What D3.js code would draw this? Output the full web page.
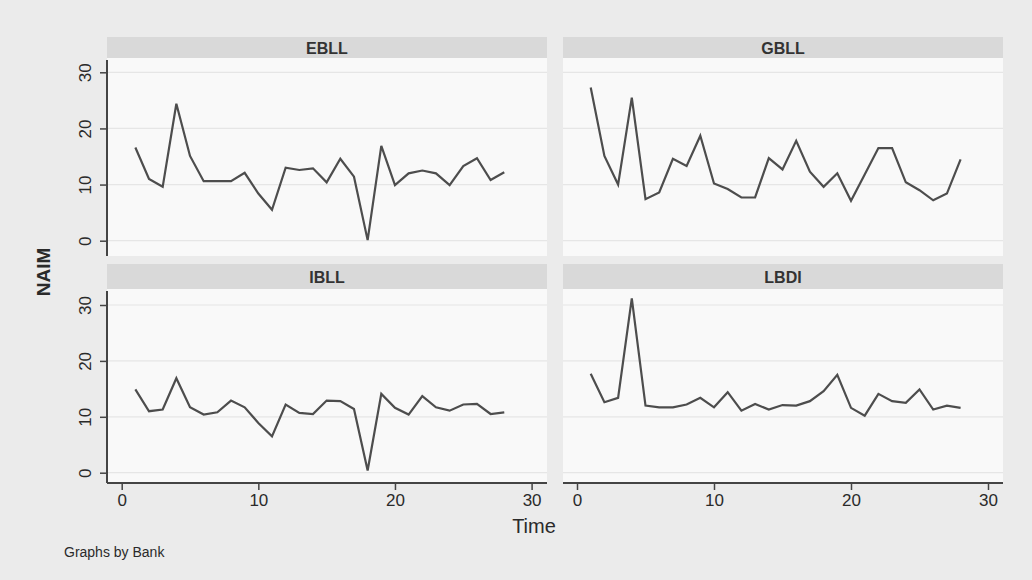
<!DOCTYPE html>
<html>
<head>
<meta charset="utf-8">
<script src="https://cdn.jsdelivr.net/npm/d3@7"></script>
<style>
  body { margin: 0; background: #ebebeb; }
  svg { display: block; font-family: "Liberation Sans", Arial, sans-serif; }
</style>
</head>
<body>
<svg id="chart" width="1032" height="580"></svg>
<script>
// panel order: top-left, top-right, bottom-left, bottom-right
const banks = ['EBLL', 'GBLL', 'IBLL', 'LBDI'];
const time = d3.range(1, 29);

const ebll = [16.6, 11.0, 9.6, 24.4, 15.1, 10.6, 10.6, 10.6, 12.1, 8.4, 5.5, 13.0, 12.6, 12.9,
  10.4, 14.6, 11.4, 0.1, 16.9, 9.9, 12.0, 12.5, 12.0, 9.9, 13.3, 14.7, 10.8, 12.2];
const gbll = [27.3, 15.1, 10.0, 25.5, 7.4, 8.6, 14.6, 13.3, 18.7, 10.2, 9.2, 7.7, 7.7, 14.7,
  12.7, 17.8, 12.3, 9.6, 12.0, 7.1, 11.8, 16.5, 16.5, 10.4, 9.0, 7.2, 8.4, 14.5];
const ibll = [14.9, 11.0, 11.3, 16.9, 11.7, 10.4, 10.8, 12.9, 11.7, 8.9, 6.5, 12.2, 10.7, 10.5,
  12.9, 12.8, 11.4, 0.4, 14.1, 11.6, 10.4, 13.7, 11.7, 11.1, 12.2, 12.3, 10.5, 10.8];
const lbdi = [17.7, 12.6, 13.4, 31.2, 12.0, 11.7, 11.7, 12.2, 13.4, 11.7, 14.4, 11.1, 12.3, 11.3,
  12.1, 12.0, 12.8, 14.6, 17.5, 11.6, 10.2, 14.1, 12.8, 12.5, 14.9, 11.3, 12.0, 11.6];
const series = [ebll, gbll, ibll, lbdi];

const yTicks = [0, 10, 20, 30];
const xTicks = [0, 10, 20, 30];

const svg = d3.select('#chart');
const ink = '#444';
const txt = '#2a2a2a';

const cols = [{ left: 107, right: 547, x0: 121.7, x30: 531.6 },
              { left: 563, right: 1003, x0: 577, x30: 988 }];
const rows = [{ stripTop: 37, top: 58, bottom: 256, y0: 240.7, y30: 72.3 },
              { stripTop: 264, top: 289, bottom: 483, y0: 472.7, y30: 305 }];

banks.forEach((bank, i) => {
  const c = cols[i % 2], r = rows[Math.floor(i / 2)];
  const x = d3.scaleLinear().domain([0, 30]).range([c.x0, c.x30]);
  const y = d3.scaleLinear().domain([0, 30]).range([r.y0, r.y30]);

  // strip header
  svg.append('rect')
    .attr('x', c.left).attr('y', r.stripTop)
    .attr('width', c.right - c.left).attr('height', r.top - r.stripTop)
    .attr('fill', '#d9d9d9');
  svg.append('text')
    .attr('x', (c.left + c.right) / 2).attr('y', (r.stripTop + r.top) / 2 + 6)
    .attr('text-anchor', 'middle')
    .attr('font-size', 16).attr('font-weight', 'bold').attr('fill', '#333')
    .text(bank);

  // plot region
  svg.append('rect')
    .attr('x', c.left).attr('y', r.top)
    .attr('width', c.right - c.left).attr('height', r.bottom - r.top)
    .attr('fill', '#f9f9f9');

  // faint gridlines
  svg.append('g').selectAll('line').data(yTicks).join('line')
    .attr('x1', c.left).attr('x2', c.right)
    .attr('y1', d => y(d)).attr('y2', d => y(d))
    .attr('stroke', '#e6e6e6').attr('stroke-width', 1.2);

  // y axis on the left column
  if (i % 2 === 0) {
    const ga = svg.append('g')
      .attr('transform', `translate(${c.left},0)`)
      .call(d3.axisLeft(y).tickValues(yTicks).tickSize(7).tickPadding(4));
    ga.select('.domain').attr('stroke', ink).attr('stroke-width', 2)
      .attr('d', `M0,${r.top + 2}V${r.bottom}`);
    ga.selectAll('.tick line').attr('stroke', ink).attr('stroke-width', 1.5);
    ga.selectAll('.tick text')
      .attr('font-size', 17).attr('fill', txt)
      .attr('x', null)
      .attr('text-anchor', 'middle')
      .attr('transform', 'translate(-22,0) rotate(-90)')
      .attr('y', 0).attr('dy', '0.35em');
  }

  // x axis on the bottom row
  if (i >= 2) {
    const gx = svg.append('g')
      .attr('transform', `translate(0,${r.bottom})`)
      .call(d3.axisBottom(x).tickValues(xTicks).tickSize(7).tickPadding(4));
    gx.select('.domain').attr('stroke', ink).attr('stroke-width', 2)
      .attr('d', `M${c.left},0H${c.right}`);
    gx.selectAll('.tick line').attr('stroke', ink).attr('stroke-width', 1.5);
    gx.selectAll('.tick text').attr('font-size', 17).attr('fill', txt);
  }

  // series line
  const line = d3.line().x((d, k) => x(time[k])).y(d => y(d));
  svg.append('path')
    .datum(series[i])
    .attr('d', line)
    .attr('fill', 'none')
    .attr('stroke', '#4d4d4d')
    .attr('stroke-width', 2.2)
    .attr('stroke-linejoin', 'miter');
});

// axis titles and note
svg.append('text')
  .attr('transform', 'translate(50,272) rotate(-90)')
  .attr('text-anchor', 'middle')
  .attr('font-size', 19).attr('font-weight', 'bold').attr('fill', txt)
  .text('NAIM');
svg.append('text')
  .attr('x', 534).attr('y', 533)
  .attr('text-anchor', 'middle')
  .attr('font-size', 20).attr('fill', txt)
  .text('Time');
svg.append('text')
  .attr('x', 64).attr('y', 557)
  .attr('font-size', 14).attr('fill', txt)
  .text('Graphs by Bank');
</script>
</body>
</html>
